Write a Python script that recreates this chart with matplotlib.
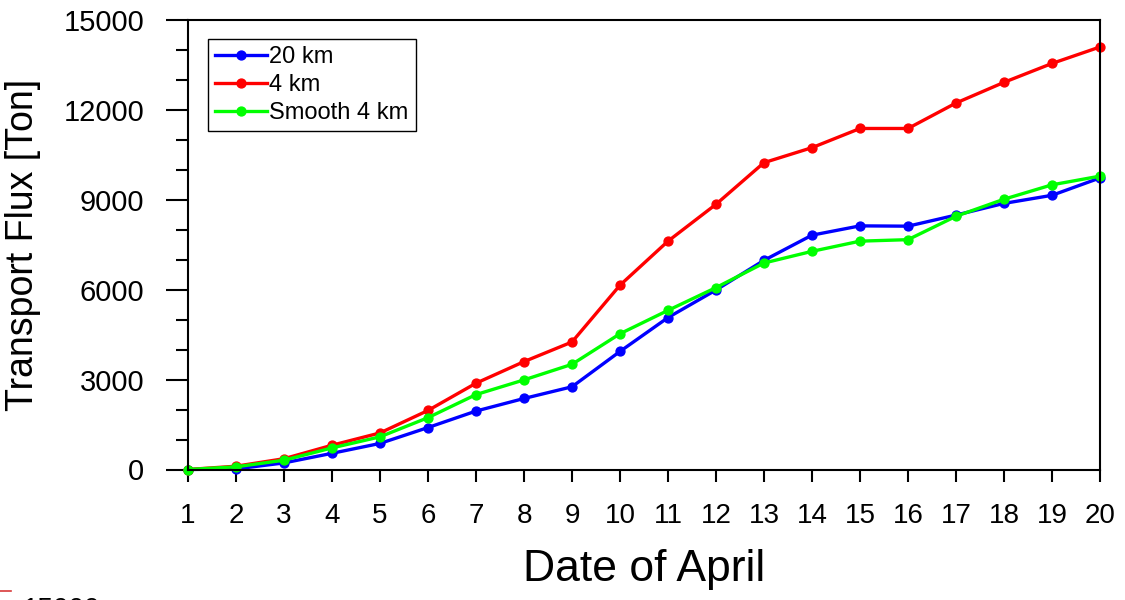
import matplotlib.pyplot as plt
from matplotlib.ticker import MultipleLocator

plt.rcParams["font.family"] = ["Liberation Sans", "DejaVu Sans"]

# Cumulative transport flux, 1-20 April
days = list(range(1, 21))
flux_20km = [0, 20, 220, 540, 870, 1400, 1950, 2370, 2760, 3940,
             5070, 5990, 6980, 7820, 8130, 8120, 8490, 8880, 9150, 9730]
flux_4km = [0, 110, 360, 810, 1220, 1970, 2880, 3600, 4255, 6150,
            7620, 8850, 10240, 10740, 11380, 11380, 12230, 12920, 13550, 14100]
flux_4km_smooth = [0, 90, 310, 720, 1090, 1730, 2500, 2990, 3510, 4530,
                   5310, 6070, 6890, 7280, 7620, 7670, 8450, 9020, 9500, 9790]

W, H = 1125, 600
fig = plt.figure(figsize=(W / 100, H / 100), dpi=100)
ax = fig.add_axes([188 / W, 1 - 469.5 / H, 912 / W, 449.5 / H])

style = dict(marker="o", markersize=6.4, linewidth=2.4, clip_on=False)
ax.plot(days, flux_20km, color="#0000ff", label="20 km", **style)
ax.plot(days, flux_4km, color="#ff0000", label="4 km", **style)
ax.plot(days, flux_4km_smooth, color="#00ff00", label="Smooth 4 km", **style)

ax.set_xlim(1, 20)
ax.set_ylim(0, 15000)
ax.set_xticks(days)
ax.yaxis.set_major_locator(MultipleLocator(3000))
ax.yaxis.set_minor_locator(MultipleLocator(1000))

for s in ax.spines.values():
    s.set_linewidth(1.5)
ax.tick_params(axis="y", which="major", direction="out", length=15.5,
               width=1.5, pad=16, labelsize=21)
ax.tick_params(axis="y", which="minor", direction="out", length=8.4, width=1.5)
ax.tick_params(axis="x", which="major", direction="out", length=8.4,
               width=1.5, pad=16, labelsize=20)

ax.set_xlabel("Date of April", fontsize=32, labelpad=14)
ax.set_ylabel("Transport Flux [Ton]", fontsize=27, labelpad=16)

leg = ax.legend(loc="upper left", bbox_to_anchor=(0.022, 0.957),
                fontsize=17, frameon=True, fancybox=False, framealpha=1,
                edgecolor="black", borderpad=0.3, labelspacing=0.25,
                handlelength=2.2, handletextpad=0.1, borderaxespad=0)
leg.get_frame().set_linewidth(1.0)

# edge of the panel below
fig.add_artist(plt.Line2D([0, 11 / W], [1 - 590.5 / H] * 2,
                          color="#d83a3a", linewidth=1.2))
fig.text(23 / W, 1 - 597 / H, "15000", fontsize=20, va="top", ha="left")

fig.savefig("out.png", dpi=100)
